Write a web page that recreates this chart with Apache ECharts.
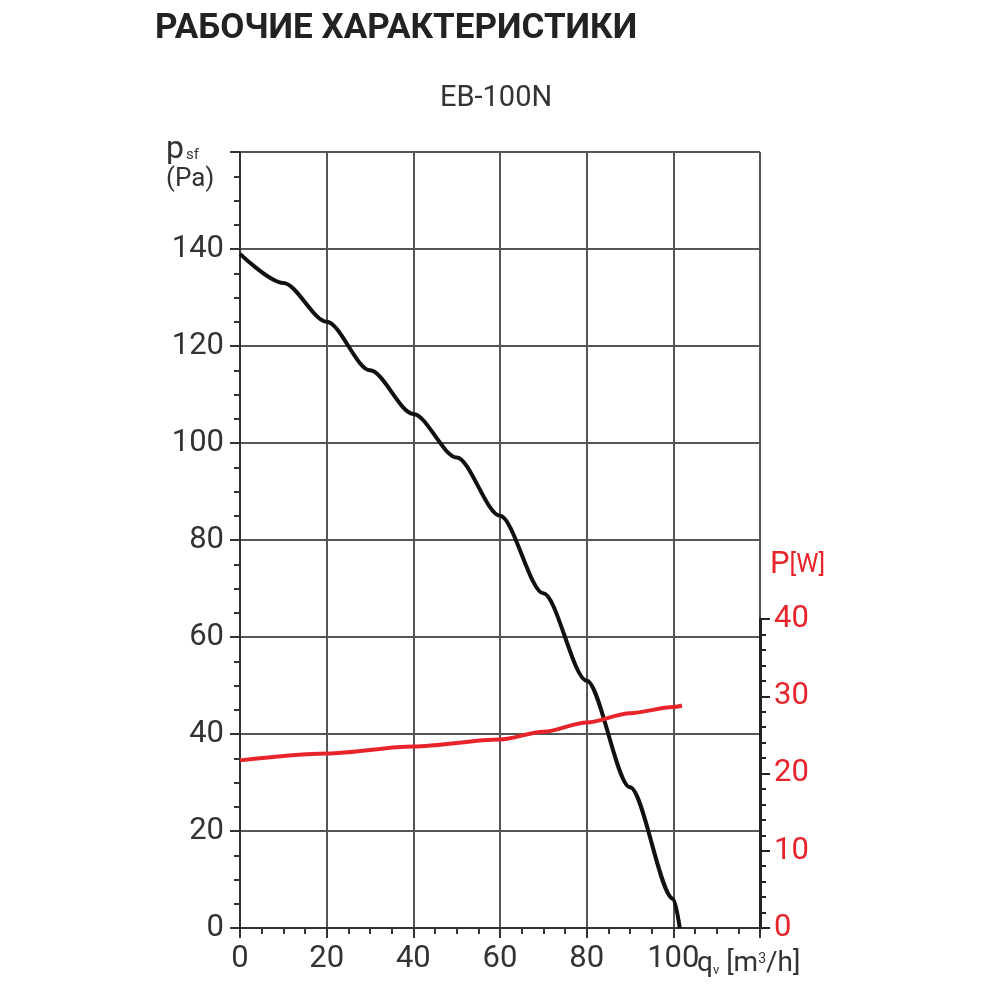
<!DOCTYPE html>
<html>
<head>
<meta charset="utf-8">
<script src="https://cdn.jsdelivr.net/npm/echarts@6/dist/echarts.min.js"></script>
<style>html,body{margin:0;background:#fff}#main{width:1000px;height:1000px}</style>
</head>
<body>
<div id="main"></div>
<script>
// напор, Па
var pressureQ = [0, 10, 20, 30, 40, 50, 60, 70, 80, 90, 100, 101.5];
var pressureP = [139, 133, 125, 115, 106, 97, 85, 69, 51, 29, 6, 0];
// мощность, Вт
var powerQ = [0, 20, 40, 60, 70, 80, 90, 100, 102];
var powerW = [21.7, 22.6, 23.5, 24.4, 25.4, 26.6, 27.8, 28.6, 28.8];

var font = 'Roboto';
var gray = '#333';
var red = '#e8242b';

function pairs(xs, ys){
	return xs.map(function(x, i){ return [x, ys[i]]; });
}

var chart = echarts.init(document.getElementById('main'));
chart.setOption({
	animation : false,
	grid : [
		{left : 240, right : 240, top : 152, bottom : 72},
		{left : 240, right : 240, top : 619, bottom : 72}
	],
	xAxis : [{
		gridIndex : 0, type : 'value', min : 0, max : 120, interval : 20,
		axisLine : {lineStyle : {color : gray, width : 2}},
		axisTick : {length : 10, lineStyle : {color : gray, width : 2}},
		minorTick : {show : true, splitNumber : 4, length : 6, lineStyle : {color : gray, width : 2}},
		splitLine : {show : true, lineStyle : {color : '#555', width : 2}},
		axisLabel : {color : gray, fontSize : 31, fontFamily : font, margin : 16,
			formatter : function(v){ return v === 120 ? '' : v; }}
	}, {
		gridIndex : 1, type : 'value', min : 0, max : 120, show : false
	}],
	yAxis : [{
		gridIndex : 0, type : 'value', min : 0, max : 160, interval : 20,
		axisLine : {show : true, lineStyle : {color : gray, width : 2}},
		axisTick : {show : true, length : 10, lineStyle : {color : gray, width : 2}},
		minorTick : {show : true, splitNumber : 4, length : 6, lineStyle : {color : gray, width : 2}},
		splitLine : {show : true, lineStyle : {color : '#555', width : 2}},
		axisLabel : {color : gray, fontSize : 31, fontFamily : font, margin : 16,
			formatter : function(v){ return v === 160 ? '' : v; }}
	}, {
		gridIndex : 1, type : 'value', position : 'right', min : 0, max : 40, interval : 10,
		axisLine : {show : true, onZero : false, lineStyle : {color : '#222', width : 3}},
		axisTick : {show : true, length : 10, lineStyle : {color : '#222', width : 2}},
		minorTick : {show : true, splitNumber : 5, length : 6, lineStyle : {color : '#222', width : 2}},
		splitLine : {show : false},
		axisLabel : {color : red, fontSize : 31, fontFamily : font, margin : 14}
	}],
	series : [{
		type : 'line', xAxisIndex : 0, yAxisIndex : 0, smooth : 0.3, smoothMonotone : 'x', symbol : 'none',
		lineStyle : {color : '#111', width : 4},
		data : pairs(pressureQ, pressureP)
	}, {
		type : 'line', xAxisIndex : 1, yAxisIndex : 1, smooth : 0.3, smoothMonotone : 'x', symbol : 'none',
		lineStyle : {color : red, width : 4},
		data : pairs(powerQ, powerW)
	}],
	graphic : [
		{type : 'text', left : 155, top : 12, style : {text : 'РАБОЧИЕ ХАРАКТЕРИСТИКИ', fill : '#222', font : 'bold 35px Roboto'}},
		{type : 'text', left : 440, top : 84, style : {text : 'EB-100N', fill : gray, font : '29px Roboto'}},
		{type : 'text', left : 166, top : 134, style : {
			text : '{a|p}{b|sf}\n{c|(Pa)}', fill : gray,
			rich : {a : {fontSize : 32, fontFamily : font, fill : gray}, b : {fontSize : 15, fontFamily : font, fill : gray, padding : [10, 0, 0, 2]}, c : {fontSize : 26, fontFamily : font, fill : gray}}
		}},
		{type : 'text', left : 697, top : 950, style : {
			text : '{a|q}{b|v}{a| [m}{s|3}{a|/h]}', fill : gray,
			rich : {a : {fontSize : 28, fontFamily : font, fill : gray}, b : {fontSize : 13, fontFamily : font, fill : gray, padding : [14, 0, 0, 0]}, s : {fontSize : 14, fontFamily : font, fill : gray, padding : [0, 0, 10, 0]}}
		}},
		{type : 'text', left : 770, top : 550, style : {
			text : '{a|P}{b|[W]}', fill : red,
			rich : {a : {fontSize : 31, fontFamily : font, fill : red}, b : {fontSize : 25, fontFamily : font, fill : red}}
		}}
	]
});
</script>
</body>
</html>
